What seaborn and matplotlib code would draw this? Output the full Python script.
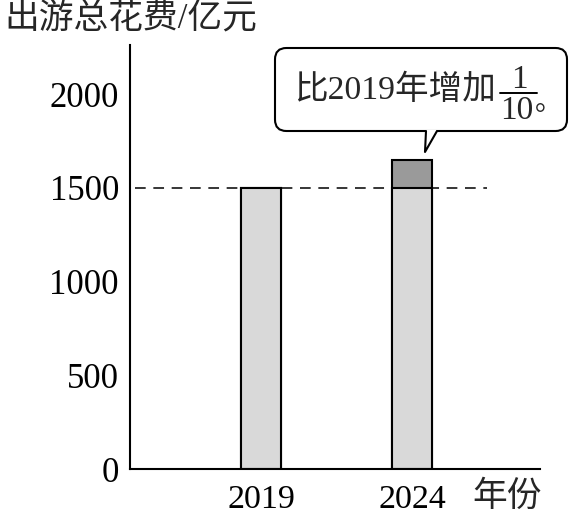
import numpy as np
import pandas as pd
import matplotlib
matplotlib.use("Agg")
import matplotlib.pyplot as plt
import seaborn as sns
from matplotlib.patches import FancyBboxPatch, Polygon

# datos del grafico
anios = ["2019", "2024"]
gasto_base = [1500, 1500]       # parte clara (nivel de 2019)
gasto_total = [1500, 1650]      # 2024 = 1500 * (1 + 1/10)
ticks_y = [0, 500, 1000, 1500, 2000]

sns.set_theme(style="white")
fuente = ["Liberation Serif", "Noto Sans CJK SC"]
plt.rcParams["font.family"] = fuente

W, H = 570, 520
fig = plt.figure(figsize=(W / 100, H / 100), dpi=100)
ax = fig.add_axes([130 / W, 51 / H, 410 / W, 424 / H])

df_total = pd.DataFrame({"anio": anios, "gasto": gasto_total})
df_base = pd.DataFrame({"anio": anios, "gasto": gasto_base})

# barra total (parte oscura) y encima la parte clara
sns.barplot(data=df_total, x="anio", y="gasto", color="#9a9a9a", saturation=1,
            width=0.26, edgecolor="black", linewidth=1.5, ax=ax)
sns.barplot(data=df_base, x="anio", y="gasto", color="#d9d9d9", saturation=1,
            width=0.26, edgecolor="black", linewidth=1.5, ax=ax)

ax.set_xlim(-0.868, 1.848)
ax.set_ylim(0, 2262)
ax.set_yticks(ticks_y)
ax.set_yticklabels([str(t) for t in ticks_y])
ax.set_xlabel("")
ax.set_ylabel("")

# linea punteada en 1500
ax.axhline(gasto_base[0], xmin=0.012, xmax=0.871, color="black", lw=1.1,
           ls=(0, (7, 5)), zorder=0.5)

for s in ["top", "right"]:
    ax.spines[s].set_visible(False)
for s in ["left", "bottom"]:
    ax.spines[s].set_linewidth(1.5)
    ax.spines[s].set_color("black")
ax.tick_params(axis="y", direction="in", length=10, width=1.3, pad=8,
               labelsize=25, colors="black")
ax.tick_params(axis="x", length=0, pad=11, labelsize=24.5, colors="black")
ax.grid(False)

def fx(x):
    return x / W

def fy(y):
    return 1 - y / H

# titulos de los ejes
fig.text(fx(4), fy(19), "出游总花费/亿元", fontsize=25, family=fuente,
         ha="left", va="center")
fig.text(fx(472), fy(497), "年份", fontsize=25, family=fuente,
         ha="left", va="center")

# globo de texto
caja = FancyBboxPatch((fx(275), fy(131)), fx(292), 83 / H,
                      boxstyle="round,pad=0,rounding_size=0.02",
                      transform=fig.transFigure, facecolor="white",
                      edgecolor="black", lw=1.5, mutation_aspect=570 / 520,
                      zorder=1)
fig.add_artist(caja)
punta = Polygon([(fx(426), fy(130)), (fx(425), fy(152)), (fx(437), fy(130))],
                closed=False, transform=fig.transFigure, facecolor="white",
                edgecolor="none", zorder=2)
fig.add_artist(punta)
fig.add_artist(plt.Line2D([fx(426), fx(425), fx(437)],
                          [fy(131), fy(152), fy(131)],
                          transform=fig.transFigure, color="black", lw=1.5,
                          zorder=3))

fig.text(fx(294), fy(90), "比2019年增加", fontsize=24.2, family=fuente,
         ha="left", va="center", zorder=4)
fig.text(fx(519), fy(80), "1", fontsize=24, family=fuente, ha="center",
         va="center", zorder=4)
fig.text(fx(517), fy(111), "10", fontsize=24, family=fuente, ha="center",
         va="center", zorder=4)
fig.add_artist(plt.Line2D([fx(500), fx(537)], [fy(93), fy(93)],
                          transform=fig.transFigure, color="black", lw=1.4,
                          zorder=5))
fig.text(fx(549), fy(104), "。", fontsize=20, family=fuente, ha="center",
         va="center", zorder=4)

fig.savefig("out.png", dpi=100)
